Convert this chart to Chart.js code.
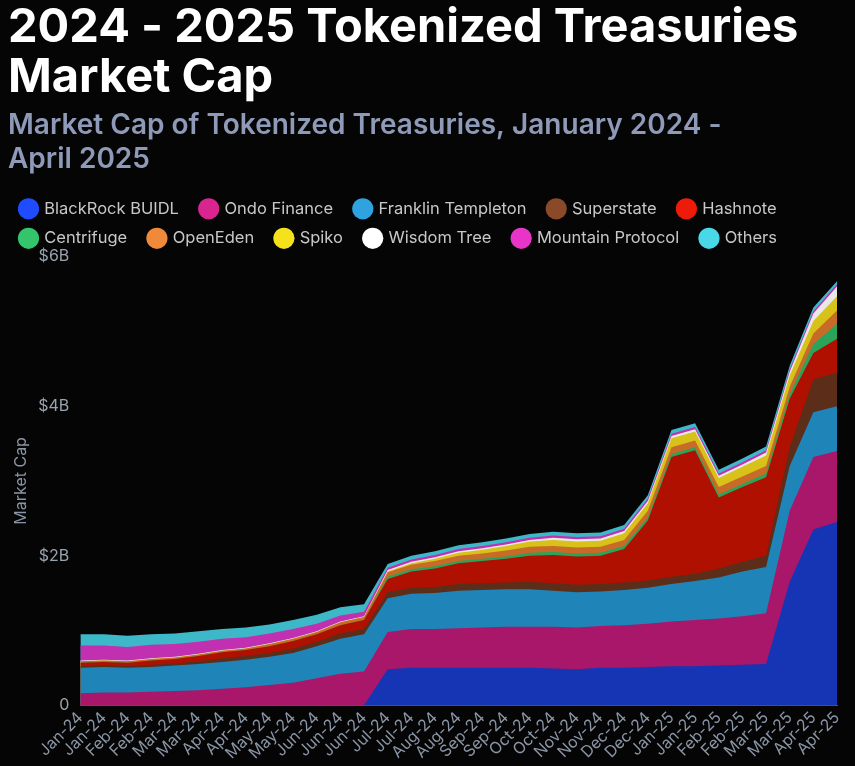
<!DOCTYPE html>
<html><head><meta charset="utf-8">
<script src="https://cdn.jsdelivr.net/npm/chart.js@4.4.1/dist/chart.umd.min.js"></script>
<style>html,body{margin:0;padding:0;background:#050505;}#w{width:855px;height:766px;}</style>
</head><body><div id="w"><canvas id="c"></canvas></div>
<script>
const labels = ["Jan-24","Jan-24","Feb-24","Feb-24","Mar-24","Mar-24","Apr-24","Apr-24","May-24","May-24","Jun-24","Jun-24","Jun-24",
"Jul-24","Jul-24","Aug-24","Aug-24","Sep-24","Sep-24","Oct-24","Oct-24","Nov-24","Nov-24","Dec-24","Dec-24",
"Jan-25","Jan-25","Feb-25","Feb-25","Mar-25","Mar-25","Apr-25","Apr-25"];
const blackrock = [0,0,0,0,0,0,0,0,0,0,0,0,0,0.48,0.5,0.5,0.5,0.5,0.5,0.5,0.49,0.48,0.5,0.5,0.51,0.52,0.52,0.53,0.54,0.55,1.65,2.35,2.45];
const ondo = [0.16,0.17,0.17,0.18,0.19,0.2,0.22,0.24,0.27,0.3,0.36,0.42,0.45,0.5,0.52,0.52,0.53,0.54,0.55,0.55,0.56,0.56,0.56,0.57,0.58,0.6,0.62,0.63,0.65,0.68,0.95,0.97,0.95];
const franklin = [0.34,0.34,0.33,0.33,0.34,0.35,0.36,0.37,0.38,0.4,0.43,0.47,0.5,0.45,0.47,0.48,0.5,0.5,0.5,0.5,0.48,0.47,0.46,0.47,0.48,0.5,0.52,0.55,0.6,0.62,0.6,0.6,0.6];
const superstate = [0.02,0.02,0.02,0.03,0.03,0.04,0.05,0.05,0.05,0.06,0.06,0.07,0.07,0.08,0.08,0.08,0.09,0.09,0.09,0.1,0.1,0.1,0.1,0.1,0.1,0.1,0.1,0.12,0.13,0.15,0.25,0.44,0.45];
const hashnote = [0.05,0.05,0.05,0.06,0.06,0.07,0.08,0.08,0.09,0.1,0.1,0.11,0.12,0.18,0.22,0.25,0.28,0.3,0.32,0.35,0.38,0.38,0.38,0.45,0.8,1.6,1.65,0.95,1.0,1.05,0.65,0.35,0.45];
const centrifuge = [0,0,0,0,0,0,0,0,0,0,0,0,0,0.03,0.03,0.03,0.03,0.03,0.03,0.04,0.04,0.04,0.04,0.04,0.04,0.04,0.04,0.04,0.04,0.05,0.06,0.12,0.2];
const openeden = [0.02,0.02,0.02,0.02,0.02,0.02,0.02,0.02,0.03,0.03,0.03,0.04,0.04,0.06,0.06,0.07,0.07,0.07,0.08,0.08,0.08,0.08,0.08,0.08,0.09,0.09,0.09,0.1,0.1,0.1,0.1,0.14,0.18];
const spiko = [0,0,0,0,0,0,0,0,0,0,0,0,0,0.01,0.02,0.03,0.04,0.05,0.06,0.07,0.08,0.08,0.08,0.09,0.1,0.12,0.12,0.12,0.13,0.14,0.15,0.17,0.19];
const wisdom = [0.01,0.01,0.01,0.01,0.01,0.01,0.01,0.01,0.01,0.01,0.01,0.01,0.01,0.02,0.02,0.02,0.02,0.02,0.02,0.02,0.03,0.03,0.03,0.03,0.03,0.03,0.03,0.03,0.03,0.04,0.05,0.1,0.13];
const mountain = [0.2,0.19,0.18,0.18,0.17,0.16,0.15,0.14,0.13,0.12,0.1,0.08,0.06,0.03,0.03,0.03,0.03,0.03,0.03,0.03,0.03,0.03,0.03,0.03,0.03,0.03,0.03,0.03,0.03,0.03,0.03,0.03,0.03];
const others = [0.15,0.15,0.15,0.14,0.14,0.14,0.13,0.13,0.12,0.12,0.12,0.11,0.1,0.05,0.05,0.05,0.05,0.05,0.05,0.05,0.05,0.05,0.05,0.05,0.05,0.05,0.05,0.05,0.05,0.05,0.05,0.05,0.04];
const yTicks = [0,2,4,6];

const series = [
 ["BlackRock BUIDL", blackrock, "#1535b5", "#1f4cff"],
 ["Ondo Finance", ondo, "#a8176a", "#d9258f"],
 ["Franklin Templeton", franklin, "#1f84b8", "#2ea3e0"],
 ["Superstate", superstate, "#5c2e1a", "#8a4a2a"],
 ["Hashnote", hashnote, "#b01000", "#ee1a0a"],
 ["Centrifuge", centrifuge, "#2aa45a", "#33c46c"],
 ["OpenEden", openeden, "#c86a28", "#f08a3a"],
 ["Spiko", spiko, "#d8c21a", "#f5e21a"],
 ["Wisdom Tree", wisdom, "#e8e8e8", "#ffffff"],
 ["Mountain Protocol", mountain, "#c030b0", "#e835c8"],
 ["Others", others, "#3cb8c8", "#48d8e8"]
];
const datasets = series.map(s => ({label:s[0], data:s[1], backgroundColor:s[2], borderColor:s[2], borderWidth:0, fill:true, pointRadius:0, tension:0, legendColor:s[3]}));

new Chart(document.getElementById('c'), {
 type:'line',
 data:{labels, datasets},
 options:{
  responsive:true, maintainAspectRatio:false, animation:false,
  layout:{padding:{left:8,right:18,top:0,bottom:0}},
  plugins:{
   title:{display:true, text:["2024 - 2025 Tokenized Treasuries","Market Cap"], align:'start', color:'#ffffff', font:{family:'Inter', size:47, weight:'bold', lineHeight:1.08}, padding:{top:2,bottom:6}},
   subtitle:{display:true, text:["Market Cap of Tokenized Treasuries, January 2024 -","April 2025"], align:'start', color:'#8e9ab8', font:{family:'Inter', size:28, weight:'600', lineHeight:1.18}, padding:{bottom:12}},
   legend:{position:'top', align:'start', labels:{color:'#c8c8c8', font:{family:'Inter', size:16.5}, usePointStyle:true, pointStyle:'circle', boxWidth:15, boxHeight:15, padding:13,
     generateLabels:(chart)=>Chart.defaults.plugins.legend.labels.generateLabels(chart).map((l,i)=>{l.fillStyle=datasets[i].legendColor; l.strokeStyle=datasets[i].legendColor; l.text=l.text+'  '; return l;})}},
   tooltip:{enabled:false}
  },
  scales:{
   x:{grid:{display:false, drawTicks:false}, border:{color:'#555'}, ticks:{color:'#8a95a5', autoSkip:false, maxRotation:45, minRotation:45, font:{family:'Inter', size:16}}},
   y:{stacked:true, min:0, max:6, grid:{display:false}, border:{display:false},
      afterBuildTicks:(ax)=>{ax.ticks=yTicks.map(v=>({value:v}));},
      ticks:{color:'#9aa3b0', font:{family:'Inter', size:16}, callback:v=>v===0?'0':'$'+v+'B'},
      title:{display:true, text:'Market Cap', color:'#8a95a5', font:{family:'Inter', size:16}}}
  }
 }
});
</script></body></html>
